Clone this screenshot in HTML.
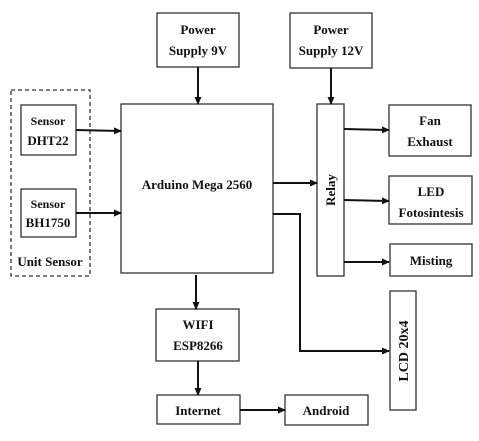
<!DOCTYPE html>
<html><head><style>body{margin:0;background:#fff}</style></head><body>
<svg width="479" height="436" xmlns="http://www.w3.org/2000/svg" font-family="Liberation Serif, serif" font-weight="bold" font-size="13" fill="#111">
<defs><marker id="a" markerWidth="8" markerHeight="8" refX="7" refY="4" orient="auto" markerUnits="userSpaceOnUse"><path d="M0,0.5 L8,4 L0,7.5z" fill="#111"/></marker></defs>
<g fill="none" stroke="#333" stroke-width="1.3">
<rect x="157" y="13" width="82" height="54"/>
<rect x="290" y="13" width="82" height="55"/>
<rect x="11" y="90" width="79" height="186" stroke-dasharray="4,3"/>
<rect x="21" y="105" width="55" height="50"/>
<rect x="21" y="189" width="55" height="48"/>
<rect x="121" y="104" width="152" height="169"/>
<rect x="317" y="104" width="27" height="172"/>
<rect x="389" y="105" width="82" height="51"/>
<rect x="389" y="176" width="83" height="48"/>
<rect x="390" y="244" width="82" height="32"/>
<rect x="390" y="291" width="26" height="119"/>
<rect x="156" y="309" width="83" height="52"/>
<rect x="157" y="395" width="83" height="29"/>
<rect x="285" y="395" width="83" height="30"/>
</g>
<g stroke="#111" stroke-width="2" fill="none" marker-end="url(#a)">
<line x1="198" y1="67" x2="198" y2="104"/>
<line x1="331" y1="68" x2="331" y2="104"/>
<line x1="76" y1="130" x2="121" y2="131"/>
<line x1="76" y1="213" x2="121" y2="213"/>
<line x1="273" y1="183" x2="317" y2="183"/>
<line x1="344" y1="129" x2="389" y2="130"/>
<line x1="344" y1="200" x2="389" y2="201"/>
<line x1="344" y1="262" x2="389" y2="262"/>
<polyline points="273,214 300,214 300,351 389,351"/>
<line x1="196" y1="275" x2="196" y2="309"/>
<line x1="198" y1="361" x2="198" y2="395"/>
<line x1="240" y1="410" x2="285" y2="410"/>
</g>
<g text-anchor="middle">
<text x="198" y="34">Power</text><text x="198" y="55">Supply 9V</text>
<text x="331" y="34">Power</text><text x="331" y="55">Supply 12V</text>
<text x="48" y="125" font-size="12">Sensor</text><text x="48" y="145">DHT22</text>
<text x="48" y="208" font-size="12">Sensor</text><text x="48" y="227">BH1750</text>
<text x="50" y="266">Unit Sensor</text>
<text x="197" y="189">Arduino Mega 2560</text>
<text x="430" y="125">Fan</text><text x="430" y="146">Exhaust</text>
<text x="431" y="196">LED</text><text x="431" y="217">Fotosintesis</text>
<text x="431" y="265">Misting</text>
<text x="198" y="329">WIFI</text><text x="198" y="350">ESP8266</text>
<text x="198" y="415">Internet</text>
<text x="326" y="415">Android</text>
<text transform="translate(335,190) rotate(-90)">Relay</text>
<text transform="translate(408,351) rotate(-90)" font-size="14">LCD 20x4</text>
</g>
</svg>
</body></html>
